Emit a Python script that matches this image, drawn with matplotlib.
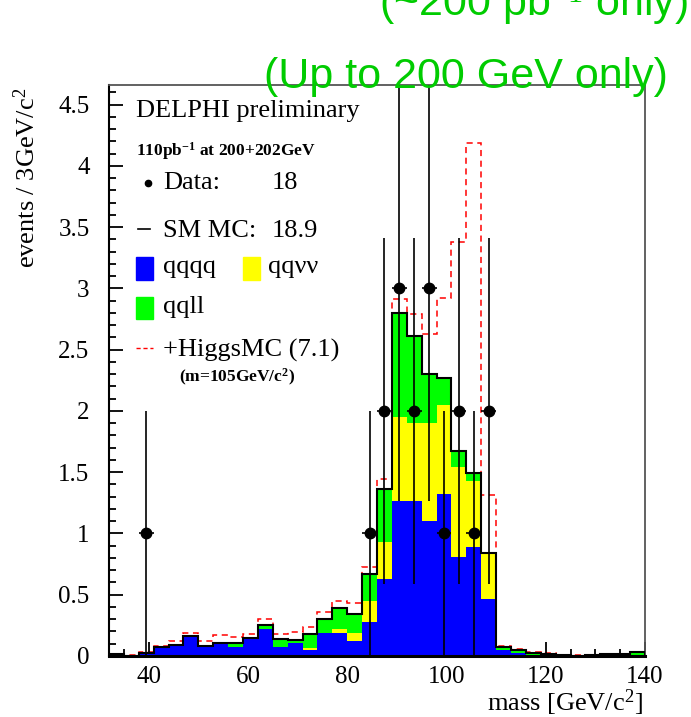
import numpy as np
import matplotlib
matplotlib.use('Agg')
from matplotlib import pyplot as plt
from matplotlib.patches import Rectangle
from matplotlib.lines import Line2D
from matplotlib.ticker import MultipleLocator

# 3 GeV/c^2 bins from 32 to 140
edges = np.arange(32, 141, 3)

# SM MC contributions per bin
qqqq = [0.016, 0.004, 0.027, 0.07, 0.09, 0.155, 0.08, 0.105, 0.076, 0.144, 0.223, 0.071,
        0.109, 0.049, 0.185, 0.185, 0.12, 0.28, 0.625, 1.265, 1.265, 1.105, 1.325, 0.808,
        0.887, 0.465, 0.047, 0.027, 0, 0, 0, 0, 0, 0, 0, 0]
qqvv = [0, 0, 0, 0, 0, 0, 0, 0, 0, 0, 0, 0,
        0, 0.013, 0, 0.033, 0.07, 0.165, 0.305, 0.685, 0.635, 0.795, 0.725, 0.732,
        0.543, 0.368, 0, 0, 0, 0, 0, 0, 0, 0, 0, 0]
qqll = [0, 0, 0, 0, 0, 0.005, 0.002, 0.004, 0.027, 0, 0.027, 0.07,
        0.022, 0.118, 0.12, 0.171, 0.15, 0.224, 0.43, 0.85, 0.71, 0.40, 0.22, 0.133,
        0.06, 0.01, 0.026, 0.025, 0.022, 0.02, 0.011, 0.004, 0.01, 0.016, 0.016, 0.033]
# SM + Higgs (m=105) total
sm_higgs = [0.016, 0.005, 0.035, 0.08, 0.125, 0.19, 0.125, 0.169, 0.152, 0.18, 0.305, 0.18,
            0.198, 0.237, 0.362, 0.452, 0.43, 0.727, 1.445, 2.91, 2.79, 2.63, 2.92, 3.38,
            4.19, 1.31, 0.082, 0.056, 0.03, 0.022, 0.012, 0.005, 0.012, 0.018, 0.02, 0.035]

# data
data_mass = [39.5, 84.5, 87.5, 90.5, 93.5, 96.5, 99.5, 102.5, 105.5, 108.5]
data_n = [1, 1, 2, 3, 2, 3, 1, 2, 1, 2]

ytick_vals = [0, 0.5, 1, 1.5, 2, 2.5, 3, 3.5, 4, 4.5]
ytick_labels = ['0', '0.5', '1', '1.5', '2', '2.5', '3', '3.5', '4', '4.5']
xtick_vals = [40, 60, 80, 100, 120, 140]

plt.rcParams['font.family'] = ['Liberation Serif', 'DejaVu Serif']
plt.rcParams['mathtext.fontset'] = 'custom'
plt.rcParams['mathtext.rm'] = 'Liberation Serif'
plt.rcParams['mathtext.it'] = 'Liberation Serif:italic'
plt.rcParams['mathtext.bf'] = 'Liberation Serif:bold'

fig = plt.figure(figsize=(6.91, 7.17), dpi=100)
ax = fig.add_axes([109/691, 1 - 656/717, 536/691, 571/717])

b = np.array(qqqq)
y = b + np.array(qqvv)
g = y + np.array(qqll)

ax.stairs(sm_higgs, edges, baseline=None, color='red', lw=1.1, ls=(0, (4, 3)), zorder=1)
ax.stairs(g, edges, baseline=y, fill=True, color='#00ff00', lw=0, zorder=2)
ax.stairs(y, edges, baseline=b, fill=True, color='#ffff00', lw=0, zorder=2)
ax.stairs(b, edges, baseline=0, fill=True, color='#0000ff', lw=0, zorder=2)
ax.stairs(g, edges, baseline=0, color='black', lw=1.5, zorder=3)

n = np.array(data_n, dtype=float)
ax.errorbar(data_mass, n, yerr=np.sqrt(n), xerr=1.5, fmt='o', color='black',
            ms=7.5, elinewidth=1.2, capsize=0, zorder=5)

ax.set_xlim(32, 140)
ax.set_ylim(0, 4.66)
ax.set_xticks(xtick_vals)
ax.set_yticks(ytick_vals)
ax.set_yticklabels(ytick_labels)
ax.xaxis.set_minor_locator(MultipleLocator(5))
ax.yaxis.set_minor_locator(MultipleLocator(0.1))
ax.tick_params(which='both', direction='in', top=False, right=False, width=1.3, labelsize=18)
ax.tick_params(which='major', length=10)
ax.tick_params(which='minor', length=5)
ax.tick_params(axis='x', pad=7)
ax.tick_params(axis='y', pad=14)

ax.spines['left'].set_linewidth(1.5)
ax.spines['bottom'].set_linewidth(2.2)
for s in ['top', 'right']:
    ax.spines[s].set_linewidth(1.3)
    ax.spines[s].set_color('#555555')

ax.set_xlabel('mass [GeV/c$^{2}$]', fontsize=19, loc='right')
ax.xaxis.set_label_coords(0.995, -0.055)
ax.set_ylabel('events / 3GeV/c$^{2}$', fontsize=19, loc='top')
ax.yaxis.set_label_coords(-0.129, 0.995)

# legend block
T = ax.transAxes
ax.text(0.0504, 0.944, 'DELPHI preliminary', transform=T, fontsize=19, va='baseline')
ax.text(0.0504, 0.877, '110pb$^{\\mathbf{-1}}$ at 200+202GeV', transform=T, fontsize=12.5,
        fontweight='bold', va='baseline')
ax.plot([0.0728], [0.8284], 'o', color='black', ms=4.5, transform=T, clip_on=False)
ax.text(0.1007, 0.8179, 'Data:', transform=T, fontsize=19, va='baseline')
ax.text(0.304, 0.8179, '18', transform=T, fontsize=19, va='baseline')
ax.add_line(Line2D([0.0541, 0.0765], [0.7478, 0.7478], color='black', lw=1.2, transform=T))
ax.text(0.1007, 0.7338, 'SM MC:', transform=T, fontsize=19, va='baseline')
ax.text(0.304, 0.7338, '18.9', transform=T, fontsize=19, va='baseline')
ax.add_patch(Rectangle((0.0504, 0.6585), 0.0317, 0.0403, color='#0000ff', transform=T))
ax.text(0.1007, 0.6708, 'qqqq', transform=T, fontsize=19, va='baseline')
ax.add_patch(Rectangle((0.25, 0.6585), 0.0317, 0.0403, color='#ffff00', transform=T))
ax.text(0.2966, 0.6708, 'qq\u03bd\u03bd', transform=T, fontsize=19, va='baseline')
ax.add_patch(Rectangle((0.0504, 0.5902), 0.0317, 0.0385, color='#00ff00', transform=T))
ax.text(0.1007, 0.6007, 'qqll', transform=T, fontsize=19, va='baseline')
ax.add_line(Line2D([0.0504, 0.0821], [0.5394, 0.5394], color='red', lw=1.0,
                   ls=(0, (3, 2)), transform=T))
ax.text(0.1007, 0.5236, '+HiggsMC (7.1)', transform=T, fontsize=19, va='baseline')
ax.text(0.1306, 0.4799, '(m=105GeV/c$^{\\mathbf{2}}$)', transform=T, fontsize=12.5,
        fontweight='bold', va='baseline')

# green overlay notes (upper one runs off the top edge, as in the original)
fig.text(0.9957, 0.977, '(~200 pb$^{-1}$ only)', ha='right', va='baseline',
         color='#00cc00', fontsize=31, family=['Liberation Sans', 'DejaVu Sans'])
fig.text(0.9667, 0.8773, '(Up to 200 GeV only)', ha='right', va='baseline',
         color='#00cc00', fontsize=31, family=['Liberation Sans', 'DejaVu Sans'])

fig.savefig('out.png', dpi=100)
